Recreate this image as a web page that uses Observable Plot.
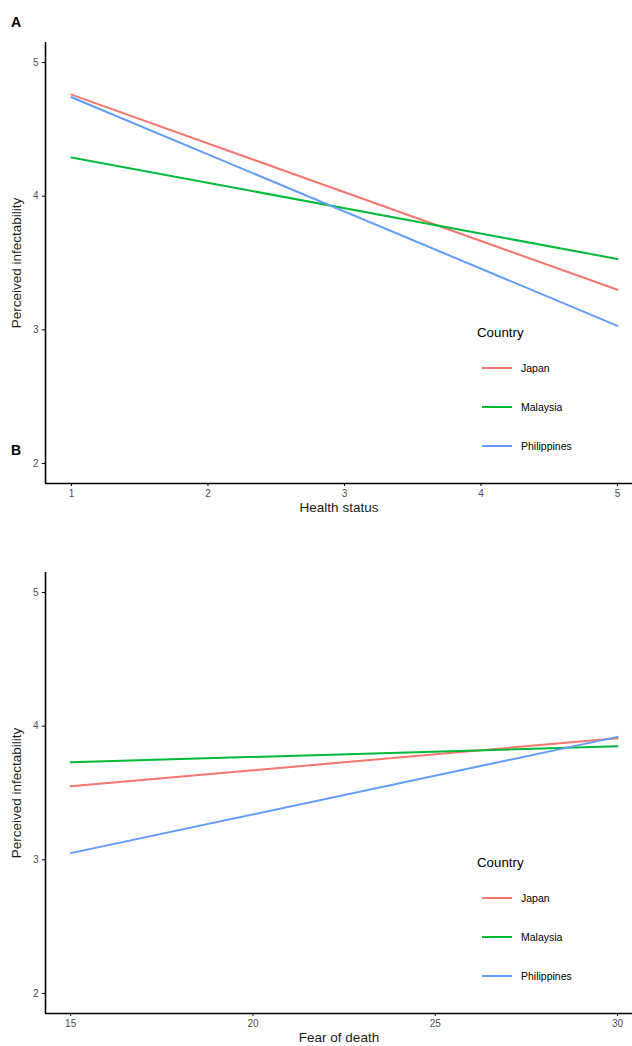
<!DOCTYPE html>
<html>
<head>
<meta charset="utf-8">
<script src="https://cdn.jsdelivr.net/npm/d3@7"></script>
<script src="https://cdn.jsdelivr.net/npm/@observablehq/plot@0.6"></script>
<style>
  html, body { margin: 0; padding: 0; background: #fff; }
  body { width: 632px; height: 1046px; overflow: hidden; font-family: "Liberation Sans", Arial, sans-serif; }
  #wrap { position: relative; width: 632px; height: 1046px; }
  .panel { position: absolute; left: 0; width: 632px; }
  .tag { position: absolute; left: 11px; font-weight: bold; font-size: 14px; color: #000; }
  .legend { position: absolute; left: 477px; font-size: 10.5px; color: #000; }
  .legend .ttl { font-size: 13.3px; height: 20px; line-height: 20px; }
  .legend .row { position: absolute; left: 0; height: 14px; line-height: 14px; white-space: nowrap; }
  .legend .row svg { vertical-align: middle; margin-right: 8px; }
  .legend .row span { vertical-align: middle; }
</style>
</head>
<body>
<div id="wrap"></div>
<script>
// ---- data ----
const countries = ["Japan", "Malaysia", "Philippines"];
const colors = ["#F8766D", "#00BA38", "#619CFF"];

const healthStatus = [1, 5];
const japanHealth = [4.76, 3.30];
const malaysiaHealth = [4.29, 3.53];
const philippinesHealth = [4.74, 3.03];

const fearOfDeath = [15, 30];
const japanFear = [3.55, 3.91];
const malaysiaFear = [3.73, 3.85];
const philippinesFear = [3.05, 3.92];

const yTicks = [2, 3, 4, 5];
const healthTicks = [1, 2, 3, 4, 5];
const fearTicks = [15, 20, 25, 30];

function rows(xs, series) {
  const out = [];
  series.forEach(([name, vals]) => xs.forEach((x, i) => out.push({country: name, x, y: vals[i]})));
  return out;
}

const dataA = rows(healthStatus, [["Japan", japanHealth], ["Malaysia", malaysiaHealth], ["Philippines", philippinesHealth]]);
const dataB = rows(fearOfDeath, [["Japan", japanFear], ["Malaysia", malaysiaFear], ["Philippines", philippinesFear]]);

function panel(data, xDomain, xTicks, xTitle) {
  return Plot.plot({
    width: 632,
    height: 516,
    marginLeft: 45,
    marginRight: 0,
    marginTop: 42,
    marginBottom: 33,
    style: {fontFamily: "'Liberation Sans', Arial, sans-serif", background: "white", overflow: "visible"},
    x: {domain: xDomain},
    y: {domain: [1.85, 5.15]},
    color: {domain: countries, range: colors},
    marks: [
      Plot.line(data, {x: "x", y: "y", z: "country", stroke: "country", strokeWidth: 2}),
      Plot.ruleX([xDomain[0]], {stroke: "black", strokeWidth: 1.6}),
      Plot.ruleY([1.85], {stroke: "black", strokeWidth: 1.6}),
      Plot.axisY({ticks: yTicks, tickSize: 3, tickPadding: 4, fontSize: 10, stroke: "black", fill: "#4D4D4D", label: null, tickFormat: d => String(d)}),
      Plot.axisX({ticks: xTicks, tickSize: 3, tickPadding: 3, fontSize: 10, stroke: "black", fill: "#4D4D4D", label: null, tickFormat: d => String(d)}),
      Plot.text(["Perceived infectability"], {frameAnchor: "left", textAnchor: "middle", rotate: -90, dx: -29, fontSize: 13.5, fill: "#1a1a1a"}),
      Plot.text([xTitle], {frameAnchor: "bottom", textAnchor: "middle", dy: 28, fontSize: 13.5, fill: "#1a1a1a"})
    ]
  });
}

const wrap = document.getElementById("wrap");

function addPanel(top, data, xDomain, xTicks, xTitle, tag, tagTop, legendTop) {
  const div = document.createElement("div");
  div.className = "panel";
  div.style.top = top + "px";
  div.appendChild(panel(data, xDomain, xTicks, xTitle));
  wrap.appendChild(div);

  const t = document.createElement("div");
  t.className = "tag";
  t.textContent = tag;
  t.style.top = tagTop + "px";
  wrap.appendChild(t);

  const leg = document.createElement("div");
  leg.className = "legend";
  leg.style.top = legendTop + "px";
  const ttl = document.createElement("div");
  ttl.className = "ttl";
  ttl.textContent = "Country";
  leg.appendChild(ttl);
  countries.forEach((c, i) => {
    const r = document.createElement("div");
    r.className = "row";
    r.style.top = (37 + i * 39) + "px";
    r.innerHTML = `<svg width="36" height="6"><line x1="5" x2="35" y1="3" y2="3" stroke="${colors[i]}" stroke-width="2"/></svg><span>${c}</span>`;
    leg.appendChild(r);
  });
  wrap.appendChild(leg);
}

addPanel(0, dataA, [0.81, 5.11], healthTicks, "Health status", "A", 14, 323);
addPanel(530, dataB, [14.31, 30.41], fearTicks, "Fear of death", "B", 442, 853);
</script>
</body>
</html>
